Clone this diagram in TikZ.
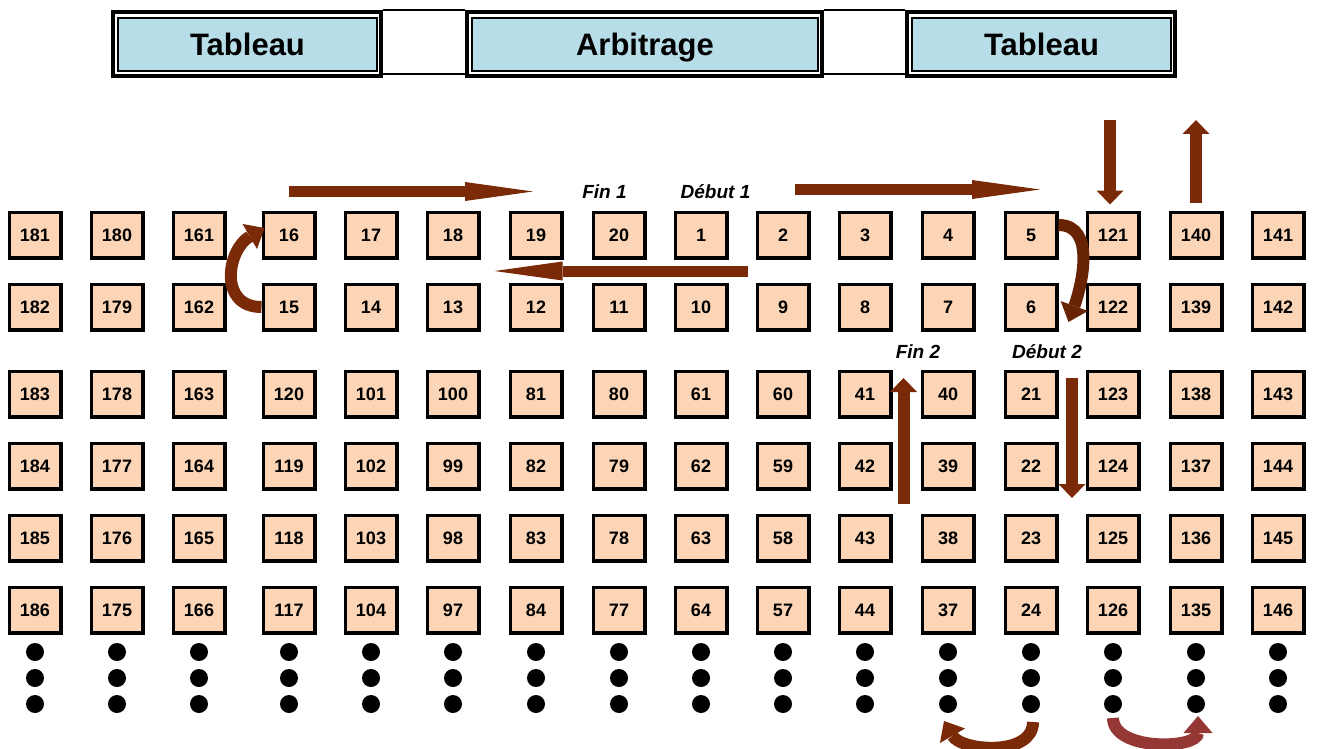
\documentclass[tikz,border=0pt]{standalone}
\usepackage{fontspec}
\setmainfont{Liberation Sans}
\usepackage{tikz}
\usetikzlibrary{positioning, calc, arrows.meta}

\definecolor{peach}{RGB}{251,213,181}
\definecolor{hblue}{RGB}{183,222,232}
\definecolor{brn}{RGB}{122,42,6}
\definecolor{brnd}{RGB}{104,34,4}
\definecolor{rosy}{RGB}{149,55,53}

\begin{document}
\begin{tikzpicture}[x=1pt, y=1pt,
    cell/.style={draw, line width=3.5pt, fill=peach, minimum width=51.5pt, minimum height=45.5pt, inner sep=0pt, text height=12.9pt, text depth=0pt, font=\bfseries\fontsize{18}{21}\selectfont},
    hout/.style={draw, line width=4pt, fill=white, minimum height=64pt, inner sep=0pt},
    hin/.style={draw, line width=1.2pt, fill=hblue, minimum height=53pt, inner sep=0pt, text height=22.2pt, text depth=0pt, font=\bfseries\fontsize{31}{36}\selectfont},
    tag/.style={font=\bfseries\itshape\fontsize{19}{22}\selectfont, inner sep=0pt},
    hblk/.style={draw=brn, line width=11pt, -{Triangle[length=68pt, width=19pt, line width=0pt]}},
    vblk/.style={draw=brn, line width=12pt, -{Triangle[length=14pt, width=27pt, line width=0pt]}},
    cblk/.style={line width=12pt, -{Triangle[length=17pt, width=29pt, line width=0pt]}},
  ]
  \useasboundingbox (0,0) rectangle (1320,-749);

  % Header boxes
  \node[hout, minimum width=268pt] (ot1) at (247,-44) {};
  \node[hout, minimum width=355pt] (ot2) at (644.5,-44) {};
  \node[hout, minimum width=268pt] (ot3) at (1041,-44) {};
  \node[hin, minimum width=259pt] (t1) at (247.5,-44.5) {Tableau};
  \node[hin, minimum width=346pt] (t2) at (645,-44.5) {Arbitrage};
  \node[hin, minimum width=259pt] (t3) at (1041.5,-44.5) {Tableau};
  \foreach \a/\b in {ot1/ot2, ot2/ot3} {
    \draw[line width=2pt] (\a.north east) -- (\b.north west);
    \draw[line width=2pt] ([yshift=4]\a.south east) -- ([yshift=4]\b.south west);
  }

  % Grid of cells, one column at a time
  \foreach \x/\ra/\rb/\rc/\rd/\re/\rf in {35/181/182/183/184/185/186, 117/180/179/178/177/176/175,
      199/161/162/163/164/165/166, 289/16/15/120/119/118/117, 371/17/14/101/102/103/104,
      453/18/13/100/99/98/97, 536/19/12/81/82/83/84, 619/20/11/80/79/78/77,
      701/1/10/61/62/63/64, 783/2/9/60/59/58/57, 865/3/8/41/42/43/44,
      948/4/7/40/39/38/37, 1031/5/6/21/22/23/24, 1113/121/122/123/124/125/126,
      1196/140/139/138/137/136/135, 1278/141/142/143/144/145/146} {
    \node[cell] (b\ra) at (\x,-235) {\ra};
    \node[cell] (b\rb) at (\x,-307) {\rb};
    \node[cell] (b\rc) at (\x,-394) {\rc};
    \node[cell] (b\rd) at (\x,-466) {\rd};
    \node[cell] (b\re) at (\x,-538) {\re};
    \node[cell] (b\rf) at (\x,-610) {\rf};
    % dots below the column
    \foreach \y in {652, 678, 704} {
      \fill (\x,-\y) circle (9pt);
    }
  }

  % Labels
  \node[tag] (fin1) at (604.5,-191.5) {Fin 1};
  \node[tag] (deb1) at (715.5,-191.5) {Début 1};
  \node[tag] (fin2) at (918,-352) {Fin 2};
  \node[tag] (deb2) at (1047,-352) {Début 2};

  % Straight arrows
  \draw[hblk] (b16 |- fin1) -- ($(b19 |- fin1)+(-3,0)$);
  \draw[hblk] ($(b2 |- deb1)+(12,2)$) -- ($(b5 |- deb1)+(9,2)$);
  \draw[hblk] ($(b1)!.5!(b10)+(47,0)$) -- ($(b18)!.5!(b12)$);

  \coordinate (inA) at (1110,-120);
  \coordinate (outA) at (1196,-120);
  \draw[vblk] (inA) -- ([xshift=-3,yshift=6]b121.north);
  \draw[vblk] ([yshift=8]b140.north) -- (outA);
  \draw[vblk] ($(b42)!.5!(b39)+(-3,-38)$) -- ($(b41)!.5!(b40)+(-3,16)$);
  \draw[vblk] ($(b21)!.5!(b123)+(0,16)$) -- ($(b22)!.5!(b124)+(0,-32)$);

  % Curved arrows
  \draw[cblk, draw=brnd] ([yshift=10]b5.east) to[out=0, in=70] ([shift={(10,-15)}]b6.east);
  \draw[cblk, draw=brn] (b15.west) to[out=180, in=210, looseness=1.4] ([shift={(3,7)}]b16.west);

  \coordinate (s1) at (1033,-722);
  \coordinate (e1) at (944,-721);
  \coordinate (s2) at (1113,-718);
  \coordinate (e2) at (1198,-716);
  \draw[cblk, draw=brn] (s1) to[out=-90, in=-60] (e1);
  \draw[cblk, draw=rosy] (s2) to[out=-90, in=-90] (e2);
\end{tikzpicture}
\end{document}
